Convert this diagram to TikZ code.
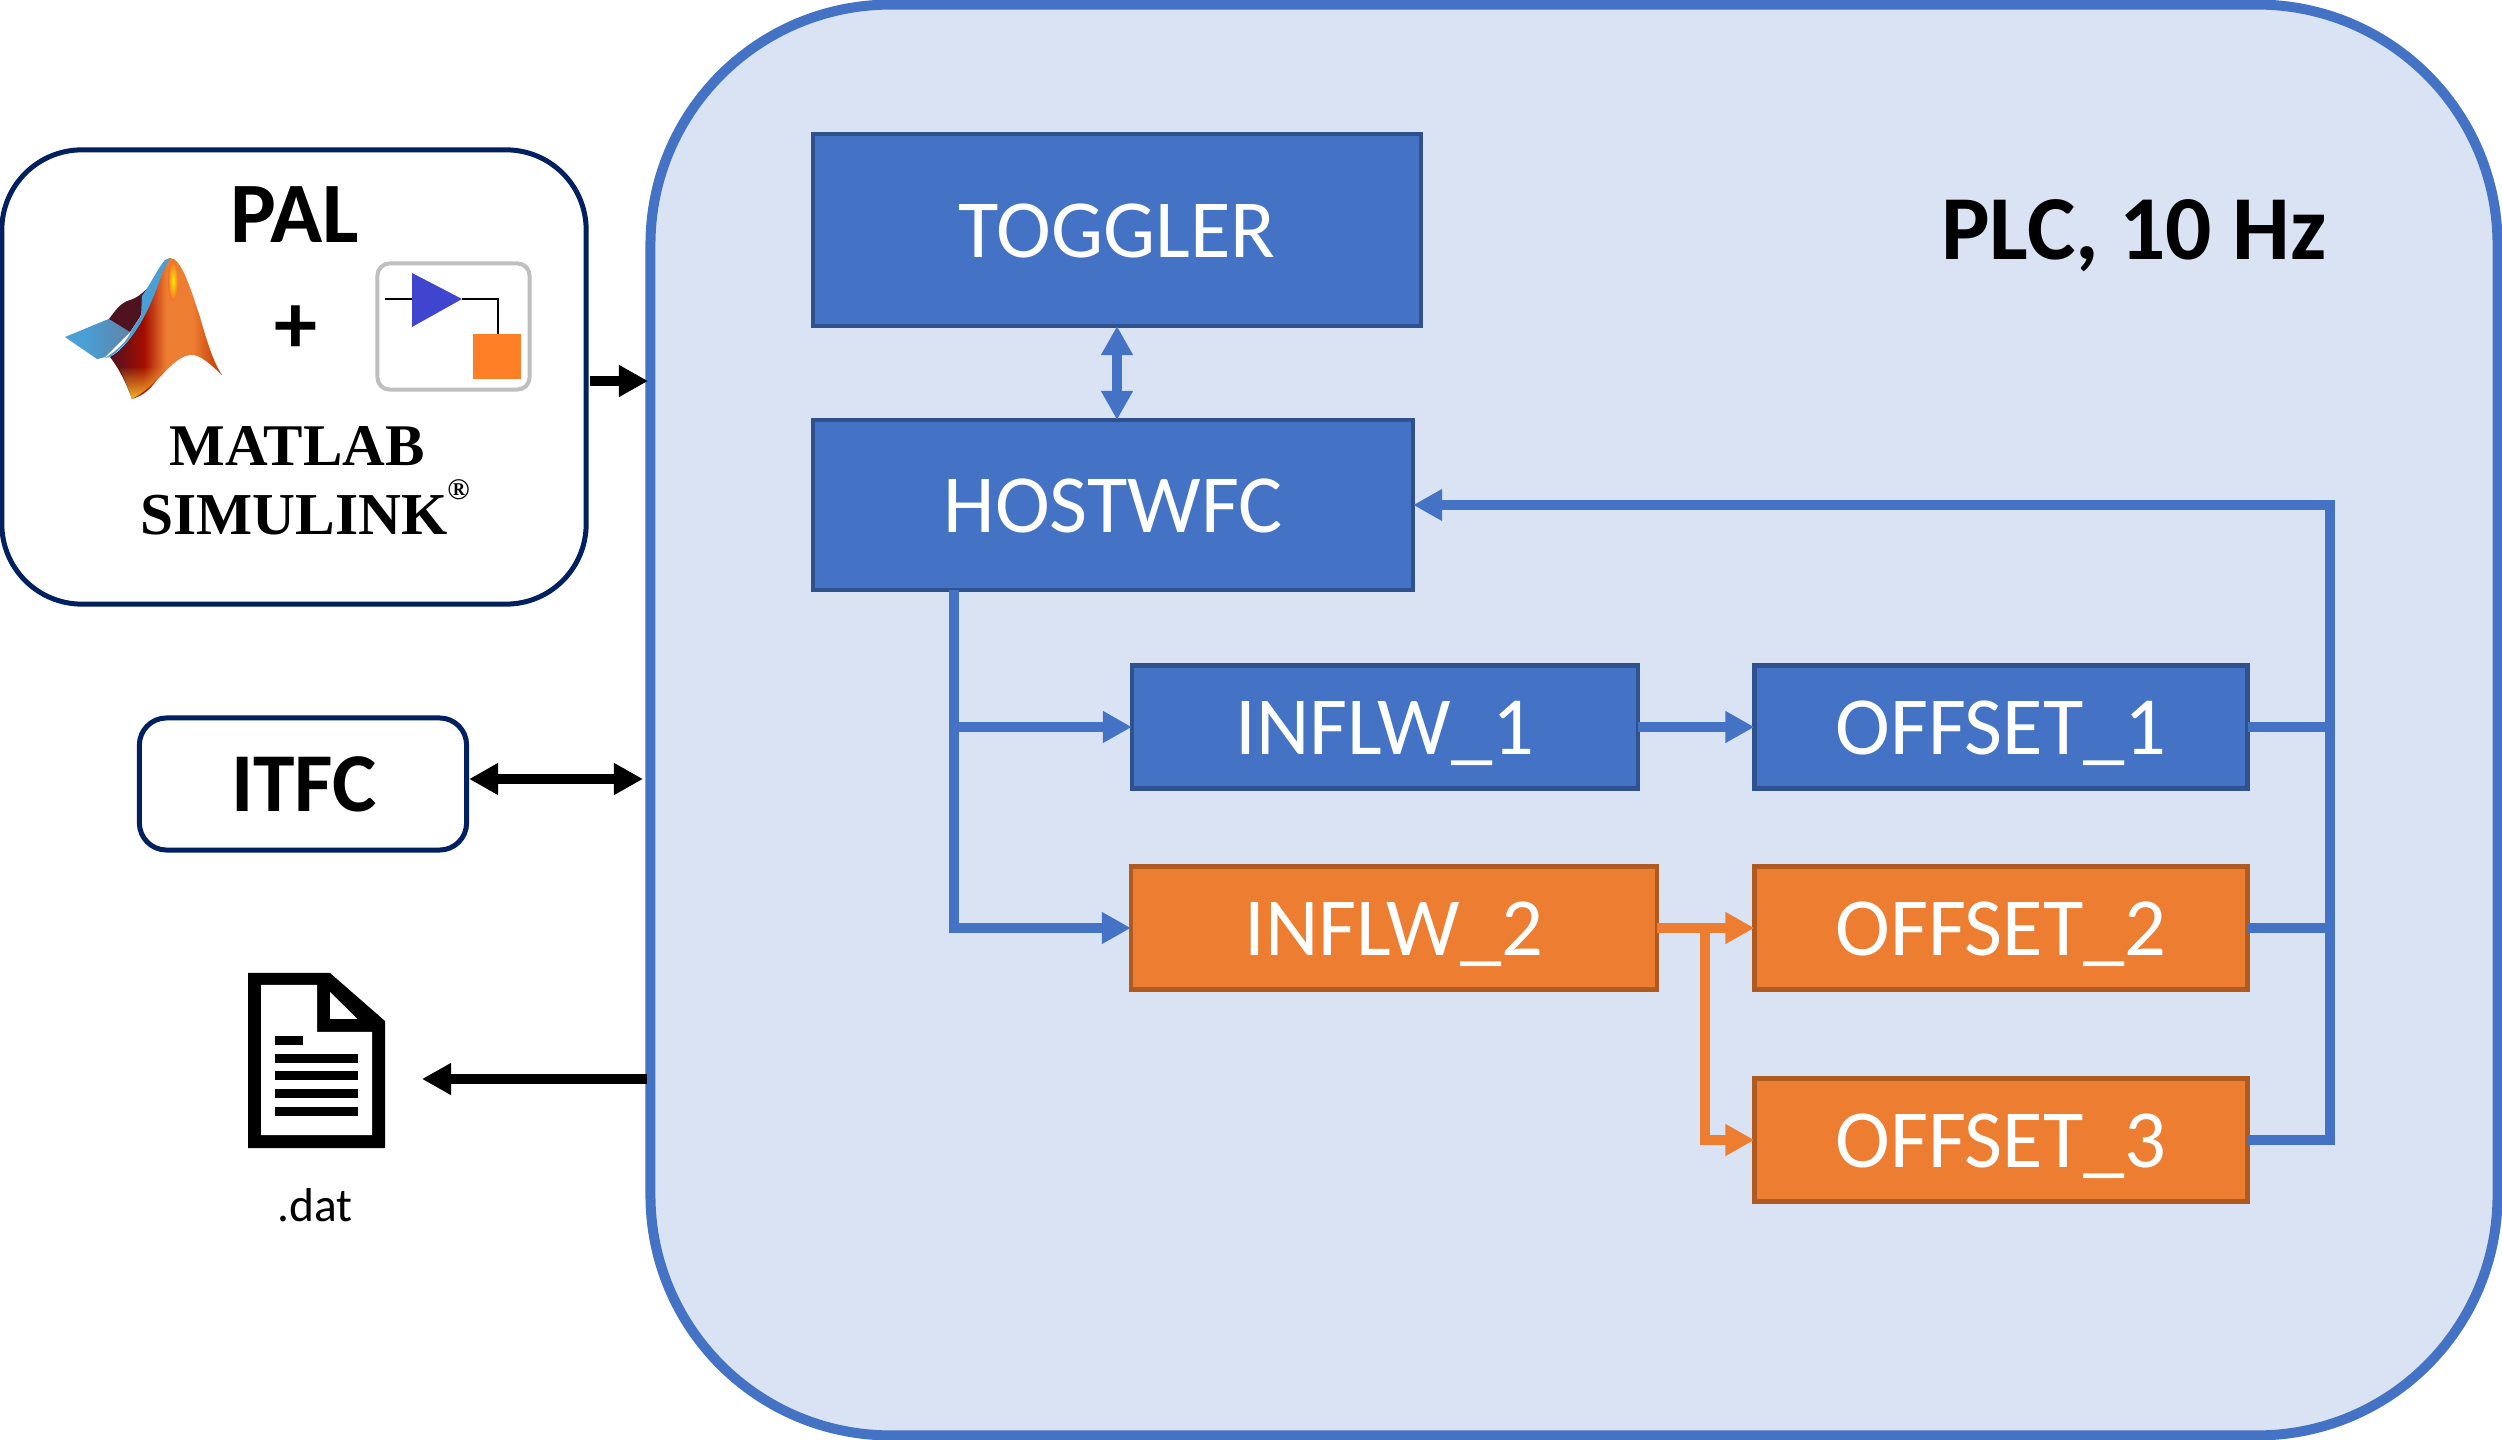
\documentclass[tikz,border=0pt]{standalone}
\usepackage{fontspec}
\setmainfont{Carlito}
\newfontfamily\logofont{Liberation Serif}
\usetikzlibrary{arrows.meta,fadings}

\definecolor{plcfill}{HTML}{DAE3F3}
\definecolor{blockblue}{HTML}{4472C4}
\definecolor{blockblueline}{HTML}{2F528F}
\definecolor{blockorange}{HTML}{ED7D31}
\definecolor{blockorangeline}{HTML}{AE5A21}
\definecolor{navy}{HTML}{002060}
\definecolor{peakblue}{HTML}{4A9FD4}
\definecolor{peakgrey}{HTML}{5E84A8}
\definecolor{peakdark}{HTML}{4E1220}
\definecolor{peakgold}{HTML}{F7B32B}
\definecolor{iconblue}{HTML}{4045CF}
\definecolor{iconorange}{HTML}{FF7F27}

\pgfdeclarehorizontalshading{peakshade}{100bp}{
	color(0bp)=(peakdark); color(25bp)=(peakdark); color(40bp)=(red!60!black!90!orange);
	color(50bp)=(blockorange); color(62bp)=(blockorange); color(75bp)=(red!45!orange!75!black); color(100bp)=(red!45!orange!75!black)}

\tikzset{
	headtip/.style={-{Triangle[length=.29cm,width=.3cm]}},
	bothtip/.style={{Triangle[length=.29cm,width=.3cm]}-{Triangle[length=.29cm,width=.3cm]}},
	blueline/.style={draw=blockblue,line width=.095cm},
	orangeline/.style={draw=blockorange,line width=.095cm},
	blackline/.style={draw=black,line width=.1cm},
	blockb/.style={draw=blockblueline,fill=blockblue,line width=.045cm,text=white,inner sep=0pt,outer sep=0pt,text height=.54cm,text depth=0pt,font=\fontsize{23.5}{23.5}\selectfont},
	blocko/.style={draw=blockorangeline,fill=blockorange,line width=.045cm,text=white,inner sep=0pt,outer sep=0pt,text height=.54cm,text depth=0pt,font=\fontsize{23.5}{23.5}\selectfont},
	sidebox/.style={draw=navy,fill=white,line width=.05cm,inner sep=0pt},
	boldlabel/.style={font=\fontsize{23.8}{23.8}\selectfont\bfseries,inner sep=0pt,text height=.54cm,text depth=0pt}
}

\begin{document}
\begin{tikzpicture}[x=.01cm,y=-.01cm]
	\useasboundingbox (0,0) rectangle (2502,1440);

	\node[draw=blockblue,fill=plcfill,line width=.1cm,rounded corners=2.4cm,minimum width=18.46cm,minimum height=14.3cm,inner sep=0pt] (plc) at (1574,720) {};
	\node[font=\fontsize{26}{26}\selectfont\bfseries,inner sep=0pt,text height=.59cm,text depth=0pt] (plclabel) at (2134,230) {PLC, 10 Hz};

	\node[blockb,minimum width=6.08cm,minimum height=1.92cm] (toggler) at (1117,230) {TOGGLER};
	\node[blockb,minimum width=6cm,minimum height=1.7cm] (host) at (1113,505) {HOSTWFC};
	\node[blockb,minimum width=5.06cm,minimum height=1.23cm] (inflw1) at (1385,727) {INFLW\_1};
	\node[blockb,minimum width=4.93cm,minimum height=1.23cm] (offset1) at (2001,727) {OFFSET\_1};
	\node[blocko,minimum width=5.26cm,minimum height=1.23cm] (inflw2) at (1394,928) {INFLW\_2};
	\node[blocko,minimum width=4.93cm,minimum height=1.23cm] (offset2) at (2001,928) {OFFSET\_2};
	\node[blocko,minimum width=4.93cm,minimum height=1.23cm] (offset3) at (2001,1140) {OFFSET\_3};

	\coordinate (hostturn) at (954,590);
	\coordinate (busturn) at (2330,505);
	\coordinate (orangeturn) at (1705,928);

	\draw[blueline,bothtip] (toggler.south) -- (toggler.south |- host.north);
	\draw[blueline,headtip] (hostturn) |- (inflw2.west);
	\draw[blueline,headtip] (hostturn |- inflw1.west) -- (inflw1.west);
	\draw[blueline,headtip] (inflw1.east) -- (offset1.west);
	\draw[blueline,headtip] (offset3.east) -| (busturn) -- (host.east);
	\draw[blueline] (offset1.east) -- (offset1.east -| busturn);
	\draw[blueline] (offset2.east) -- (offset2.east -| busturn);
	\draw[orangeline,headtip] (inflw2.east) -- (offset2.west);
	\draw[orangeline,headtip] (orangeturn) |- (offset3.west);

	% left side
	\node[sidebox,rounded corners=.8cm,minimum width=5.84cm,minimum height=4.54cm] (pal) at (294,377) {};
	\node[boldlabel,font=\fontsize{24.5}{24.5}\selectfont\bfseries] (pallabel) at (295,215) {PAL};
	\node[boldlabel,font=\fontsize{24.5}{24.5}\selectfont\bfseries] (plus) at (296,326) {+};
	\node[inner sep=0pt,font=\fontsize{16.8}{16.8}\logofont\bfseries] (matlab) at (297,446) {MATLAB};
	\node[inner sep=0pt,font=\fontsize{16.9}{16.9}\logofont\bfseries,anchor=base] (simulink) at (305,535) {SIMULINK\raisebox{.6em}{\fontsize{8.5}{8.5}\logofont ®}};

	% peak
	\fill[peakblue] (65,337) -- (109,319) -- (130,332) -- (105,357) -- (97,359) -- cycle;
	\shade[left color=peakblue,right color=peakgrey] (85,329) -- (109,319) -- (130,332) -- (105,357) -- (97,359) -- (88,350) -- cycle;
	\fill[peakdark] (109,319) .. controls (115,311) and (120,303) .. (130,300) .. controls (140,297) and (145,290) .. (153,283) -- (140,317) -- (130,332) -- cycle;
	\shade[shading=peakshade] (110,357) .. controls (128,347) and (143,323) .. (162,273) .. controls (164,262) and (168,258) .. (170,258) .. controls (180,258) and (188,280) .. (200,317) .. controls (206,338) and (213,362) .. (222,375) .. controls (210,364) and (200,354) .. (190,355) .. controls (178,356) and (165,372) .. (157,380) .. controls (150,390) and (142,396) .. (132,399) .. controls (127,385) and (120,370) .. (110,357) -- cycle;
	\fill[peakgold,path fading=north] (119,368) .. controls (135,368) and (155,368) .. (167,366) .. controls (160,375) and (150,390) .. (132,399) .. controls (128,388) and (124,377) .. (119,368) -- cycle;
	\shade[inner color=yellow!85!orange,outer color=blockorange!90!red] (173,281) ellipse (5 and 20);
	\fill[peakblue] (142,296) .. controls (150,285) and (158,268) .. (165,260) -- (170,258) -- (162,273) .. controls (150,310) and (135,340) .. (110,357) -- (105,358) .. controls (118,350) and (128,340) .. (131,331) -- (141,316) -- cycle;

	\node[draw=black!25,fill=white,line width=.04cm,rounded corners=.12cm,minimum width=1.52cm,minimum height=1.26cm,inner sep=0pt] (simicon) at (453.5,326.5) {};
	\fill[iconblue] (412,273) -- (462,299) -- (412,327) -- cycle;
	\draw[line width=.025cm] (385,299) -- (412,299) (462,299) -- (498,299) -- (498,334);
	\fill[iconorange] (473,334) rectangle (521,379);

	\node[sidebox,rounded corners=.27cm,minimum width=3.27cm,minimum height=1.32cm] (itfc) at (303,784) {};
	\node[boldlabel] (itfclabel) at (304,784) {ITFC};

	% file icon
	\fill (248,973) -- (330,973) -- (385,1021) -- (385,1148) -- (248,1148) -- cycle;
	\fill[white] (261,985) -- (317,985) -- (317,1032) -- (372,1032) -- (372,1135) -- (261,1135) -- cycle;
	\fill[white] (330,992) -- (357.5,1019) -- (330,1019) -- cycle;
	\fill (275,1036) rectangle (303,1045);
	\foreach \y in {1054,1071.5,1089,1107}
	\fill (275,\y) rectangle (358,\y+9);
	\coordinate (filetip) at (422,1079);
	\node[inner sep=0pt,font=\fontsize{13.5}{13.5}\selectfont,anchor=base] (datlabel) at (315,1221) {.dat};

	\coordinate (palin) at (648,381);
	\coordinate (itfcin) at (643,779);
	\coordinate (fileout) at (647,1079);
	\draw[blackline,headtip,shorten <=.01cm] (pal.east |- palin) -- (palin);
	\draw[blackline,bothtip] (itfc.east |- itfcin) -- (itfcin);
	\draw[blackline,headtip] (fileout) -- (filetip);
\end{tikzpicture}
\end{document}
